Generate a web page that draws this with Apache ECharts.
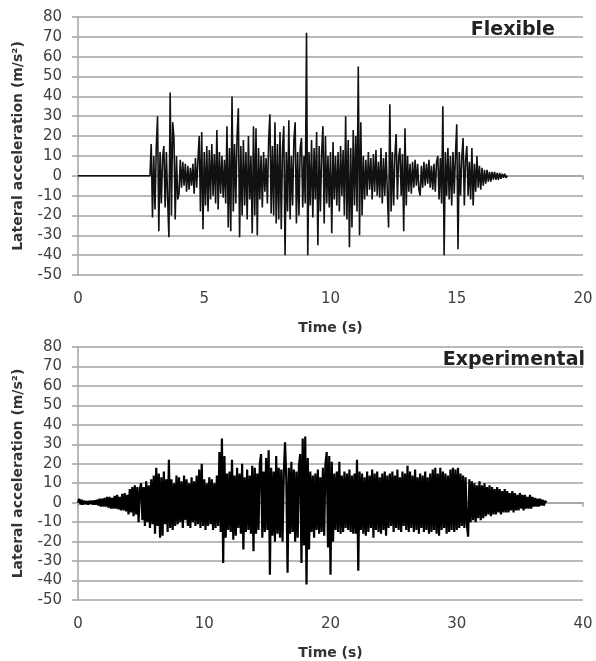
<!DOCTYPE html>
<html>
<head>
<meta charset="utf-8">
<script src="https://cdn.jsdelivr.net/npm/echarts@6/dist/echarts.min.js"></script>
<style>
  html, body { margin: 0; padding: 0; background: #fff; }
  #chart { width: 596px; height: 661px; }
</style>
</head>
<body>
<div id="chart"></div>
<script>
// ---- Axis ranges and tick labels ----
const yTicks = [-50, -40, -30, -20, -10, 0, 10, 20, 30, 40, 50, 60, 70, 80];
const flexTimeTicks = [0, 5, 10, 15, 20];
const expTimeTicks = [0, 10, 20, 30, 40];

// ---- Flexible model: lateral acceleration (m/s²), samples every 0.05 s ----
const flexStep = 0.05;
const flexQuiet = [[0, 0], [2.85, 0]];               // at rest before the shaking starts
const flex0285 = [0, 16, -21];                         // from 2.85 s
const flex03 = [10, -17, 14, 30, -28, 12, -14, 9, 15, -16, 12, -12, -31, 42, -20, 27, 19, -22, 10, -12];
const flex04 = [-9, 8, -6, 7, -5, 6, -8, 5, -7, 4, -5, 6, -9, 9, -6, 8, 20, -18, 22, -27];
const flex05 = [12, -15, 15, -18, 13, -12, 16, -10, 11, -14, 23, -17, 12, -9, 10, -11, 8, -14, 25, -26];
const flex06 = [14, -28, 40, -18, 16, -14, 20, 34, -31, 15, -20, 18, -15, 12, -22, 20, -12, 10, -29, 25];
const flex07 = [-20, 24, -30, 14, -12, 10, -16, 12, -8, 9, -14, 18, 31, -19, 15, -20, 27, -24, 16, -22];
const flex08 = [22, -27, 14, 25, -40, 12, -18, 28, -22, 10, -15, 18, 27, -24, 12, -20, 14, 19, -16, 10];
const flex09 = [-14, 72, -40, 12, -15, 18, -21, 14, -12, 22, -35, 15, -18, 12, 25, -24, 20, -14, 10, -16];
const flex10 = [12, -29, 17, -12, 10, -15, 12, -18, 15, -10, 13, -20, 30, -22, 18, -36, 14, -26, 23, -15];
const flex11 = [20, -18, 55, -30, 27, -20, 10, -12, 8, -10, 12, -7, 9, -12, 11, -8, 13, -10, 7, -11];
const flex12 = [14, -14, 9, -10, 12, -8, -26, 36, -18, 12, -15, 10, 21, -12, 9, 14, -10, 11, -28, 24];
const flex13 = [-15, 10, -8, 6, -9, 7, -6, 8, -5, 6, -7, -10, 5, -6, 7, -5, 6, -4, 8, -6];
const flex14 = [5, -7, 6, -8, 7, 10, -12, 9, -14, 35, -40, 12, -10, 14, -12, 10, -15, 12, -9, 11];
const flex15 = [26, -37, 12, -10, 9, 19, -15, 8, 15, -10, 7, -12, 14, -15, 6, -8, 10, -6, 5, -7];
const flex16 = [4, -5, 3, -4, 3, -3, 2, -3, 2, -2, 2, -2, 1.5, -2, 1.5, -1.5, 1, -1, 1, -1];
const flex17 = [0];

// ---- Experimental record: lateral acceleration (m/s²), samples every 0.1 s ----
const expStep = 0.1;
const exp00 = [0, 2, -1, 1.5, -1, 1, -0.8, 0.8, -1, 1, -0.8, 1, -1, 1.2, -1, 1.5, -1.5, 2, -2, 2];
const exp02 = [-2, 2.5, -2, 3, -2.5, 3, -3, 2.5, -3, 3.5, -3, 4, -3.5, 3, -4, 4.5, -4, 5, -4.5, 4];
const exp04 = [-6, 7, -5, 8, -7, 9, -6, 8, -10, 7, 10, -9, 8, -12, 11, -10, 9, -13, 12, -11];
const exp06 = [14, -16, 18, -12, 15, -18, 13, -17, 16, -11, 12, -15, 22, -13, 12, -14, 10, -12, 14, -11];
const exp08 = [13, -10, 11, -13, 14, -9, 12, -12, 10, -13, 13, -10, 11, -12, 14, -11, 17, -13, 20, -12];
const exp10 = [12, -14, 10, -12, 13, -11, 12, -14, 10, -13, 14, -12, 26, -15, 33, -31, 24, -18, 15, -14];
const exp12 = [16, -15, 22, -19, 14, -17, 18, -13, 15, -16, 20, -24, 13, -15, 17, -14, 14, -16, 19, -25];
const exp14 = [18, -16, 15, -14, 20, 25, -18, 16, -15, 23, -14, 27, -37, 18, -17, 16, -20, 24, -16, 18];
const exp16 = [-18, 17, -20, 15, 31, 12, -36, 18, -16, 21, -15, 17, -20, 16, -18, 19, 25, -31, 33, -22];
const exp18 = [34, -42, 23, -24, 16, -15, 14, -18, 15, -14, 17, -16, 13, -15, 18, -17, 20, 26, -23, 24];
const exp20 = [-37, 21, -20, 15, -14, 16, -15, 21, -16, 14, -15, 16, -13, 15, -14, 17, -15, 14, -16, 15];
const exp22 = [-16, 22, -35, 16, -14, 15, -16, 13, -17, 16, -15, 14, -13, 17, -18, 15, -14, 16, -15, 13];
const exp24 = [-16, 15, -14, 16, -17, 14, -13, 15, -12, 16, -15, 14, -13, 17, -14, 13, -15, 16, -12, 15];
const exp26 = [-14, 19, -15, 16, -13, 14, -15, 17, -14, 13, -16, 15, -13, 14, -15, 16, -14, 13, -16, 15];
const exp28 = [-15, 17, -14, 18, -16, 15, -17, 18, -14, 16, -13, 15, -16, 14, -15, 17, -14, 18, -15, 17];
const exp30 = [-14, 18, -13, 15, -12, 14, -13, 13, -11, -17.5, 12, -10, 11, -9, 10, -10, 9, -8, 11, -9];
const exp32 = [9, -8, 10, -7, 8, -6, 9, -7, 8, -6, 7, -6, 8, -5, 7, -6, 6, -5, 7, -5];
const exp34 = [6, -5, 5, -4, 6, -5, 5, -4, 4, -4, 5, -3, 4, -4, 4, -3, 3, -3, 4, -3];
const exp36 = [3, -2, 2.5, -2, 2, -2, 2, -1.5, 1.5, -1.5, 1, 0];

// Turn [start time, samples] blocks into [t, a] pairs
function toPairs(blocks, step) {
  const out = [];
  blocks.forEach(([t0, vals]) => {
    vals.forEach((v, i) => out.push([+(t0 + i * step).toFixed(3), v]));
  });
  return out;
}

const flexData = flexQuiet.concat(toPairs([
  [2.85, flex0285], [3, flex03], [4, flex04], [5, flex05], [6, flex06], [7, flex07],
  [8, flex08], [9, flex09], [10, flex10], [11, flex11], [12, flex12], [13, flex13],
  [14, flex14], [15, flex15], [16, flex16], [17, flex17]
], flexStep));

const expData = toPairs([
  [0, exp00], [2, exp02], [4, exp04], [6, exp06], [8, exp08], [10, exp10], [12, exp12],
  [14, exp14], [16, exp16], [18, exp18], [20, exp20], [22, exp22], [24, exp24],
  [26, exp26], [28, exp28], [30, exp30], [32, exp32], [34, exp34], [36, exp36]
], expStep);

const FONT = 'DejaVu Sans';
const GRID_GRAY = '#a3a3a3';
const TEXT_GRAY = '#404040';

function yAxisFor(gridIndex) {
  return {
    type: 'value', gridIndex,
    min: yTicks[0], max: yTicks[yTicks.length - 1], interval: 10,
    name: 'Lateral acceleration (m/s²)',
    nameLocation: 'middle', nameGap: 53, nameRotate: 90,
    nameTextStyle: { fontFamily: FONT, fontSize: 14, fontWeight: 'bold', color: '#333' },
    axisLine: { show: true, lineStyle: { color: GRID_GRAY, width: 1.5 } },
    axisTick: { show: true, length: 6, lineStyle: { color: GRID_GRAY, width: 1.5 } },
    axisLabel: { fontFamily: FONT, fontSize: 15, color: TEXT_GRAY, margin: 16 },
    splitLine: { show: true, lineStyle: { color: GRID_GRAY, width: 1.5 } }
  };
}

function xAxesFor(gridIndex, ticks) {
  const min = ticks[0], max = ticks[ticks.length - 1], interval = ticks[1] - ticks[0];
  return [
    { // labelled axis along the bottom edge
      type: 'value', gridIndex, min, max, interval, position: 'bottom',
      name: 'Time (s)', nameLocation: 'middle', nameGap: 46,
      nameTextStyle: { fontFamily: FONT, fontSize: 14, fontWeight: 'bold', color: '#333' },
      axisLine: { show: false, onZero: false },
      axisTick: { show: false },
      axisLabel: { fontFamily: FONT, fontSize: 15, color: TEXT_GRAY, margin: 17 },
      splitLine: { show: false }
    },
    { // axis line crossing at zero acceleration, tick marks only
      type: 'value', gridIndex, min, max, interval, position: 'bottom',
      axisLine: { show: true, onZero: true, lineStyle: { color: GRID_GRAY, width: 1.5 } },
      axisTick: { show: true, length: 4, lineStyle: { color: GRID_GRAY, width: 1.5 } },
      axisLabel: { show: false },
      splitLine: { show: false }
    }
  ];
}

const chart = echarts.init(document.getElementById('chart'), null, { renderer: 'canvas' });
chart.setOption({
  animation: false,
  backgroundColor: '#fff',
  graphic: [
    { type: 'text', x: 555, y: 30, z: 10,
      style: { text: 'Flexible', align: 'right', verticalAlign: 'middle',
               font: 'bold 19px "DejaVu Sans"', fill: '#222' } },
    { type: 'text', x: 585, y: 360, z: 10,
      style: { text: 'Experimental', align: 'right', verticalAlign: 'middle',
               font: 'bold 19px "DejaVu Sans"', fill: '#222' } }
  ],
  grid: [
    { left: 78, right: 13, top: 17, height: 258 },
    { left: 78, right: 13, top: 347, height: 257 }
  ],
  xAxis: xAxesFor(0, flexTimeTicks).concat(xAxesFor(1, expTimeTicks)),
  yAxis: [yAxisFor(0), yAxisFor(1)],
  series: [
    { type: 'line', name: 'Flexible', xAxisIndex: 0, yAxisIndex: 0, data: flexData,
      showSymbol: false, symbol: 'none', sampling: null,
      lineStyle: { color: '#111', width: 1.6 }, z: 3 },
    { type: 'line', name: 'Experimental', xAxisIndex: 2, yAxisIndex: 1, data: expData,
      showSymbol: false, symbol: 'none', sampling: null,
      lineStyle: { color: '#000', width: 2.2 }, z: 3 }
  ]
});
</script>
</body>
</html>
